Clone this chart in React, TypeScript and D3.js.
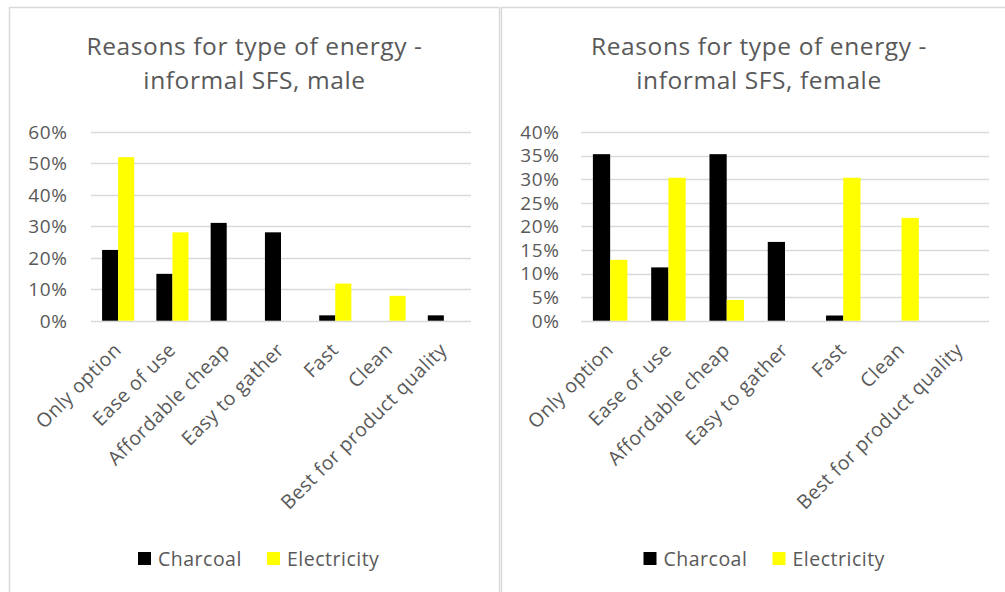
import React from "react";
import * as d3 from "d3";

const categories = [
  "Only option",
  "Ease of use",
  "Affordable cheap",
  "Easy to gather",
  "Fast",
  "Clean",
  "Best for product quality",
];
const seriesNames = ["Charcoal", "Electricity"];
const seriesColors = ["#000000", "#FFFF00"];

const maleCharcoal = [0.225, 0.149, 0.311, 0.281, 0.017, 0, 0.017];
const maleElectricity = [0.52, 0.281, 0, 0, 0.118, 0.079, 0];
const femaleCharcoal = [0.353, 0.113, 0.353, 0.167, 0.011, 0, 0];
const femaleElectricity = [0.129, 0.303, 0.044, 0, 0.303, 0.218, 0];

const maleTicks = [0, 0.1, 0.2, 0.3, 0.4, 0.5, 0.6];
const femaleTicks = [0, 0.05, 0.1, 0.15, 0.2, 0.25, 0.3, 0.35, 0.4];

const titleLine1 = "Reasons for type of energy -";
const maleTitle2 = "informal SFS, male";
const femaleTitle2 = "informal SFS, female";

const FONT = "'Open Sans', Lato, sans-serif";
const TEXT = "#595959";
const GRID = "#d9d9d9";

type PanelProps = {
  panelX: number;
  panelW: number;
  titleCx: number;
  title2: string;
  plotX0: number;
  plotX1: number;
  tickLabelX: number;
  yMax: number;
  ticks: number[];
  series: number[][];
  legendCx: number;
};

function Panel(p: PanelProps) {
  const y0 = 320.7;
  const y1 = 132;
  const y = d3.scaleLinear().domain([0, p.yMax]).range([y0, y1]);
  const x = d3.scaleBand<string>().domain(categories).range([p.plotX0, p.plotX1]).padding(0);
  const bw = x.bandwidth();
  const groupW = (bw * 2) / 3.38;
  const xs = d3
    .scaleBand<string>()
    .domain(seriesNames)
    .range([0, groupW])
    .padding(0);
  const fmt = d3.format(".0%");
  const legendStart = p.legendCx - 120.5;
  const legendOffsets = [0, 129];
  return (
    <g>
      <rect
        x={p.panelX + 0.5}
        y={7.5}
        width={p.panelW}
        height={700}
        fill="#fff"
        stroke={GRID}
        strokeWidth={1.5}
      />
      <text
        x={p.titleCx}
        y={55}
        textAnchor="middle"
        fontFamily={FONT}
        fontSize={24.5}
        letterSpacing={0.6}
        fill={TEXT}
      >
        {titleLine1}
      </text>
      <text
        x={p.titleCx}
        y={89}
        textAnchor="middle"
        fontFamily={FONT}
        fontSize={24.5}
        letterSpacing={0.6}
        fill={TEXT}
      >
        {p.title2}
      </text>
      {p.ticks.map((t) => (
        <g key={t}>
          <line
            x1={p.plotX0}
            x2={p.plotX1}
            y1={Math.round(y(t)) + 0.5}
            y2={Math.round(y(t)) + 0.5}
            stroke={GRID}
            strokeWidth={1.3}
          />
          <text
            x={p.tickLabelX + 0.7}
            y={y(t)}
            dy="0.36em"
            textAnchor="end"
            fontFamily={FONT}
            fontSize={19}
            letterSpacing={0.7}
            fill={TEXT}
          >
            {fmt(t)}
          </text>
        </g>
      ))}
      {categories.map((c, i) => {
        const gx = (x(c) as number) + (bw - groupW) / 2;
        return (
          <g key={c}>
            {p.series.map((s, si) =>
              s[i] > 0 ? (
                <rect
                  key={si}
                  x={gx + (xs(seriesNames[si]) as number)}
                  y={y(s[i])}
                  width={xs.bandwidth()}
                  height={y0 - y(s[i])}
                  fill={seriesColors[si]}
                />
              ) : null
            )}
            <text
              transform={`translate(${(x(c) as number) + bw / 2 + 4.3},${351.3}) rotate(-45)`}
              textAnchor="end"
              fontFamily={FONT}
              fontSize={19.5}
              letterSpacing={0.45}
              fill={TEXT}
            >
              {c}
            </text>
          </g>
        );
      })}
      {seriesNames.map((n, i) => (
        <g key={n} transform={`translate(${legendStart + legendOffsets[i]},552)`}>
          <rect x={0} y={0} width={13} height={13} fill={seriesColors[i]} />
          <text x={20} y={14} fontFamily={FONT} fontSize={19.5} letterSpacing={0.5} fill={TEXT}>
            {n}
          </text>
        </g>
      ))}
    </g>
  );
}

export default function App() {
  return (
    <svg
      width={1005}
      height={592}
      style={{ position: "absolute", left: 0, top: 0, background: "#fff" }}
    >
      <rect x={0} y={0} width={1005} height={592} fill="#fff" />
      <Panel
        panelX={9}
        panelW={490}
        titleCx={254.5}
        title2={maleTitle2}
        plotX0={91}
        plotX1={471}
        tickLabelX={67}
        yMax={0.6}
        ticks={maleTicks}
        series={[maleCharcoal, maleElectricity]}
        legendCx={258.5}
      />
      <Panel
        panelX={501}
        panelW={600}
        titleCx={759}
        title2={femaleTitle2}
        plotX0={581}
        plotX1={989}
        tickLabelX={559}
        yMax={0.4}
        ticks={femaleTicks}
        series={[femaleCharcoal, femaleElectricity]}
        legendCx={764}
      />
    </svg>
  );
}
